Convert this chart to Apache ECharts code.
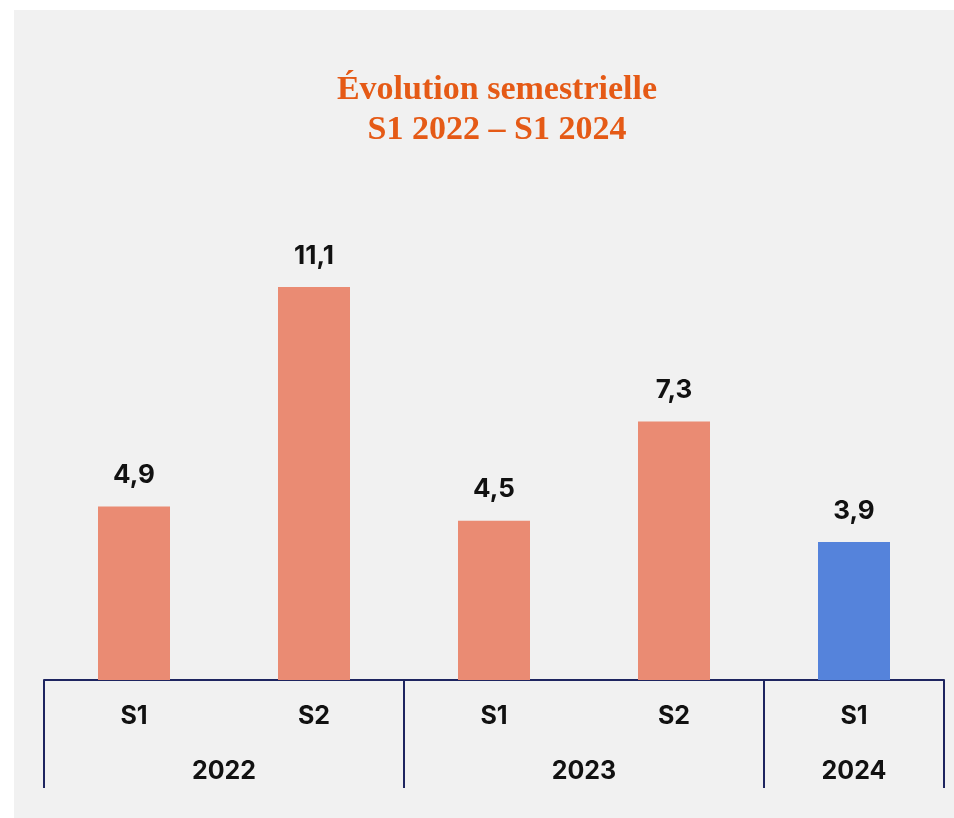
<!DOCTYPE html>
<html>
<head>
<meta charset="utf-8">
<script src="https://cdn.jsdelivr.net/npm/echarts@6/dist/echarts.min.js"></script>
<style>
  html, body { margin: 0; padding: 0; background: #ffffff; }
  #chart { position: absolute; left: 14px; top: 10px; width: 940px; height: 808px; background: #f1f1f1; }
</style>
</head>
<body>
<div id="chart"></div>
<script>
// Semesters, their years and the values shown on each bar
const semesters = ['S1', 'S2', 'S1', 'S2', 'S1'];
const values = [4.9, 11.1, 4.5, 7.3, 3.9];
const barColors = ['#ea8b73', '#ea8b73', '#ea8b73', '#ea8b73', '#5583db'];
// Year groups: label and the semester index at which each group is centred
const yearLabels = ['2022', '2023', '2024'];
const yearCenters = [1, 3, 4.5];

const navy = '#1e2560';
const labelFont = 'Inter, "Noto Sans", sans-serif';

const chart = echarts.init(document.getElementById('chart'), null, { renderer: 'canvas' });

const fmt = v => String(v).replace('.', ',');

chart.setOption({
  backgroundColor: '#f1f1f1',
  animation: false,
  title: {
    text: 'Évolution semestrielle\nS1 2022 – S1 2024',
    left: 478,
    top: 55,
    textAlign: 'center',
    textStyle: {
      fontFamily: '"Liberation Serif", serif',
      fontWeight: 'bold',
      fontSize: 34,
      lineHeight: 40,
      color: '#e55a16'
    }
  },
  grid: { left: 30, right: 10, top: 245, bottom: 138 },
  xAxis: [
    {
      type: 'category',
      data: semesters,
      position: 'bottom',
      axisLine: { show: true, lineStyle: { color: navy, width: 2 } },
      axisTick: { show: false },
      axisLabel: {
        margin: 24,
        fontFamily: labelFont,
        fontWeight: 700,
        fontSize: 25,
        lineHeight: 25,
        color: '#111111'
      }
    },
    {
      // separators between the year groups
      type: 'value',
      min: 0,
      max: 5,
      interval: 2,
      position: 'bottom',
      axisLine: { show: false },
      axisTick: { show: true, length: 108, lineStyle: { color: navy, width: 2 } },
      axisLabel: { show: false },
      splitLine: { show: false }
    },
    {
      // year labels centred under each group
      type: 'value',
      min: 0,
      max: 5,
      interval: 0.5,
      position: 'bottom',
      axisLine: { show: false },
      axisTick: { show: false },
      splitLine: { show: false },
      axisLabel: {
        margin: 79,
        fontFamily: labelFont,
        fontWeight: 700,
        fontSize: 25,
        lineHeight: 25,
        color: '#111111',
        showMinLabel: true,
        showMaxLabel: true,
        formatter: v => {
          const i = yearCenters.findIndex(c => Math.abs(c - v) < 1e-6);
          return i >= 0 ? yearLabels[i] : '';
        }
      }
    }
  ],
  yAxis: {
    type: 'value',
    min: 0,
    max: 12,
    show: false,
    splitLine: { show: false }
  },
  series: [{
    type: 'bar',
    xAxisIndex: 0,
    barWidth: 72,
    data: values.map((v, i) => ({ value: v, itemStyle: { color: barColors[i] } })),
    label: {
      show: true,
      position: 'top',
      distance: 18,
      formatter: p => fmt(p.value),
      fontFamily: labelFont,
      fontWeight: 700,
      fontSize: 26,
      color: '#111111'
    }
  }]
});
</script>
</body>
</html>
